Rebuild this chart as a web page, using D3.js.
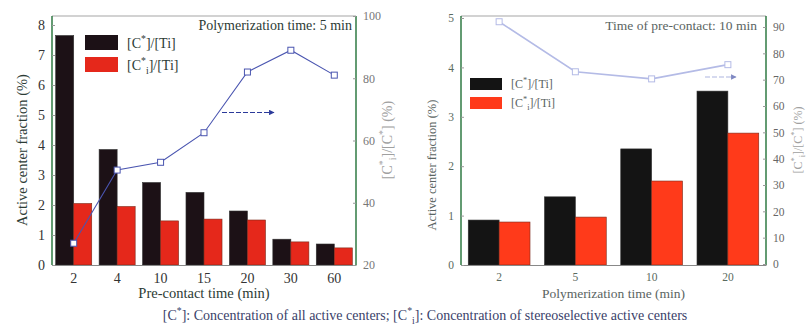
<!DOCTYPE html>
<html>
<head>
<meta charset="utf-8">
<script src="https://cdn.jsdelivr.net/npm/d3@7"></script>
<style>
  body { margin: 0; background: #fff; }
  svg { display: block; font-family: "Liberation Serif", "DejaVu Serif", serif; }
</style>
</head>
<body>
<svg id="chart" width="812" height="327"></svg>
<script>
// left panel: pre-contact time series (polymerization 5 min)
const leftCats = ["2", "4", "10", "15", "20", "30", "60"];
const leftTotal = [7.65, 3.85, 2.75, 2.42, 1.8, 0.86, 0.7];
const leftStereo = [2.05, 1.95, 1.47, 1.53, 1.5, 0.77, 0.57];
const leftRatio = [27, 50.5, 53, 62.5, 82, 89, 81];
const leftTicks = [0, 1, 2, 3, 4, 5, 6, 7, 8];
const leftRatioTicks = [20, 40, 60, 80, 100];

// right panel: polymerization time series (pre-contact 10 min)
const rightCats = ["2", "5", "10", "20"];
const rightTotal = [0.91, 1.38, 2.35, 3.52];
const rightStereo = [0.87, 0.97, 1.70, 2.67];
const rightRatio = [92, 73, 70.3, 75.7];
const rightTicks = [0, 1, 2, 3, 4, 5];
const rightRatioTicks = [0, 10, 20, 30, 40, 50, 60, 70, 80, 90];

const svg = d3.select("#chart");

svg.append("defs").append("marker")
  .attr("id", "arrow")
  .attr("viewBox", "0 0 10 10")
  .attr("refX", 9).attr("refY", 5)
  .attr("markerWidth", 7).attr("markerHeight", 5)
  .attr("orient", "auto")
  .append("path").attr("d", "M0,0L10,5L0,10z").attr("fill", "#2b3a9a");

// text with superscript / subscript pieces: [str, "sup"|"sub"|null]
function rich(sel, parts, size) {
  let shift = 0;
  parts.forEach(([s, mode]) => {
    const target = mode === "sup" ? -0.4 * size : mode === "sub" ? 0.25 * size : 0;
    sel.append("tspan")
      .attr("dy", target - shift)
      .style("font-size", mode ? (size * 0.7) + "px" : size + "px")
      .text(s);
    shift = target;
  });
}
const lblTotal = [["[C", null], ["*", "sup"], ["]/[Ti]", null]];
const lblStereo = [["[C", null], ["*", "sup"], ["i", "sub"], ["]/[Ti]", null]];
const lblRatio = [["[C", null], ["*", "sup"], ["i", "sub"], ["]/[C", null], ["*", "sup"], ["] (%)", null]];

function panel(o) {
  const g = svg.append("g");
  const x = d3.scaleBand().domain(o.cats).range([o.x0, o.x1])
    .paddingInner(o.pad).paddingOuter(o.pad / 2);
  const sub = d3.scaleBand().domain(["t", "s"]).range([0, x.bandwidth()]);
  const yL = d3.scaleLinear().domain(o.yDom).range([265, o.yTop]);
  const yR = d3.scaleLinear().domain(o.rDom).range([o.rBase, o.rTop]);

  // frame top
  g.append("line").attr("x1", o.x0).attr("x2", o.x1).attr("y1", 16).attr("y2", 16)
    .attr("stroke", "#a5a5a5").attr("stroke-width", 1.2);

  // bars
  const rows = o.cats.map((c, i) => ({c, t: o.total[i], s: o.stereo[i], r: o.ratio[i]}));
  g.selectAll(".bt").data(rows).enter().append("rect")
    .attr("x", d => x(d.c) + sub("t")).attr("width", sub.bandwidth())
    .attr("y", d => yL(d.t)).attr("height", d => yL(0) - yL(d.t))
    .attr("fill", o.black).attr("stroke", "#333").attr("stroke-width", 0.6);
  g.selectAll(".bs").data(rows).enter().append("rect")
    .attr("x", d => x(d.c) + sub("s")).attr("width", sub.bandwidth())
    .attr("y", d => yL(d.s)).attr("height", d => yL(0) - yL(d.s))
    .attr("fill", o.red).attr("stroke", "#7a2a1a").attr("stroke-width", 0.6);

  const fmt = d => String(d);

  // axes
  const ax = g.append("g").attr("transform", "translate(0,265)")
    .call(d3.axisBottom(x).tickSize(0).tickPadding(8));
  ax.select(".domain").attr("stroke", "#888").attr("stroke-width", 1.2);
  ax.selectAll("text").attr("fill", o.tickCol).style("font-size", o.tickSize + "px")
    .style("font-family", "Liberation Serif, serif");

  const al = g.append("g").attr("transform", `translate(${o.x0},0)`)
    .call(d3.axisLeft(yL).tickValues(o.yTicks).tickFormat(fmt).tickSize(-3).tickPadding(7));
  al.select(".domain").attr("stroke", "#2f7a43").attr("stroke-width", 1.5)
    .attr("d", `M0,265V16`);
  al.selectAll("line").attr("stroke", "#999");
  al.selectAll("text").attr("fill", o.tickCol).style("font-size", o.tickSize + "px")
    .style("font-family", "Liberation Serif, serif");

  const ar = g.append("g").attr("transform", `translate(${o.x1},0)`)
    .call(d3.axisRight(yR).tickValues(o.rTicks).tickFormat(fmt).tickSize(-3).tickPadding(7));
  ar.select(".domain").attr("stroke", "#2f7a43").attr("stroke-width", 1.5)
    .attr("d", `M0,265V16`);
  ar.selectAll("line").attr("stroke", "#999");
  ar.selectAll("text").attr("fill", o.rTickCol).style("font-size", o.rTickSize + "px")
    .style("font-family", "Liberation Serif, serif");

  // ratio line
  const cx = c => x(c) + x.bandwidth() / 2;
  g.append("path").datum(rows)
    .attr("d", d3.line().x(d => cx(d.c)).y(d => yR(d.r)))
    .attr("fill", "none").attr("stroke", o.lineCol).attr("stroke-width", o.lineW);
  g.selectAll(".pt").data(rows).enter().append("rect")
    .attr("x", d => cx(d.c) - 3).attr("y", d => yR(d.r) - 3)
    .attr("width", 6).attr("height", 6)
    .attr("fill", "#fff").attr("stroke", o.lineCol).attr("stroke-width", 1);

  // arrow toward right axis
  g.append("line")
    .attr("x1", o.arrow[0]).attr("x2", o.arrow[1])
    .attr("y1", yR(o.arrow[2])).attr("y2", yR(o.arrow[2]))
    .attr("stroke", o.arrowCol).attr("stroke-width", 1.1)
    .attr("stroke-dasharray", "5,2").attr("marker-end", "url(#arrow)")
    .attr("opacity", o.arrowOp);

  // legend
  const lg = g.append("g").attr("transform", `translate(${o.leg[0]},${o.leg[1]})`);
  lg.append("rect").attr("width", o.legW).attr("height", o.legH).attr("fill", o.black);
  lg.append("rect").attr("y", o.legGap).attr("width", o.legW).attr("height", o.legH).attr("fill", o.red);
  rich(lg.append("text").attr("x", o.legW + 9).attr("y", o.legH - 2).attr("fill", o.textCol),
    lblTotal, o.legFont);
  rich(lg.append("text").attr("x", o.legW + 9).attr("y", o.legGap + o.legH - 2).attr("fill", o.textCol),
    lblStereo, o.legFont);

  // title inside plot
  g.append("text").attr("x", o.x1 - o.titlePad).attr("y", 30).attr("text-anchor", "end")
    .attr("fill", o.textCol).style("font-size", o.titleSize + "px").text(o.title);

  // axis titles
  g.append("text").attr("x", (o.x0 + o.x1) / 2).attr("y", 298).attr("text-anchor", "middle")
    .attr("fill", o.textCol).style("font-size", o.xlabSize + "px").text(o.xlab);
  g.append("text").attr("transform", `translate(${o.ylabX},${o.ylabY}) rotate(-90)`)
    .attr("text-anchor", "middle").attr("fill", o.textCol)
    .style("font-size", o.ylabSize + "px").text("Active center fraction (%)");
  rich(g.append("text").attr("transform", `translate(${o.rlabX},140) rotate(-90)`)
    .attr("text-anchor", "middle").attr("fill", "#a0a0a0"), lblRatio, o.rlabSize);
}

panel({
  cats: leftCats, total: leftTotal, stereo: leftStereo, ratio: leftRatio,
  x0: 52, x1: 356, pad: 0.17, yDom: [0, 8], yTop: 25, rDom: [20, 100], rBase: 265, rTop: 16,
  yTicks: leftTicks, rTicks: leftRatioTicks,
  black: "#1c1116", red: "#e5281b", lineCol: "#4a55b0", lineW: 1.1,
  tickCol: "#333", tickSize: 14, rTickCol: "#777", rTickSize: 12,
  arrow: [222, 274, 69], arrowCol: "#2b3a9a", arrowOp: 1,
  leg: [85, 35], legW: 33, legH: 15, legGap: 22, legFont: 14,
  textCol: "#2c3b35", title: "Polymerization time: 5 min", titleSize: 14, titlePad: 4,
  xlab: "Pre-contact time (min)", xlabSize: 14.5, ylabX: 27, ylabY: 150, ylabSize: 14.5,
  rlabX: 392, rlabSize: 14
});

panel({
  cats: rightCats, total: rightTotal, stereo: rightStereo, ratio: rightRatio,
  x0: 461, x1: 766, pad: 0.19, yDom: [0, 5], yTop: 18, rDom: [0, 90], rBase: 264, rTop: 27,
  yTicks: rightTicks, rTicks: rightRatioTicks,
  black: "#141414", red: "#ff3a1a", lineCol: "#b4bbe6", lineW: 1.6,
  tickCol: "#5a6a60", tickSize: 11.5, rTickCol: "#666", rTickSize: 11.5,
  arrow: [705, 736, 71], arrowCol: "#7a86cc", arrowOp: 0.6,
  leg: [470, 78], legW: 32, legH: 12, legGap: 19, legFont: 12,
  textCol: "#5a6462", title: "Time of pre-contact: 10 min", titleSize: 13.5, titlePad: 9,
  xlab: "Polymerization time (min)", xlabSize: 13.5, ylabX: 436, ylabY: 165, ylabSize: 12.5,
  rlabX: 802, rlabSize: 12
});

// caption
const cap = svg.append("text").attr("x", 425).attr("y", 320).attr("text-anchor", "middle")
  .attr("fill", "#3a3f6a");
rich(cap, [["[C", null], ["*", "sup"], ["]: Concentration of all active centers; [C", null],
  ["*", "sup"], ["i", "sub"], ["]: Concentration of stereoselective active centers", null]], 14);
</script>
</body>
</html>
